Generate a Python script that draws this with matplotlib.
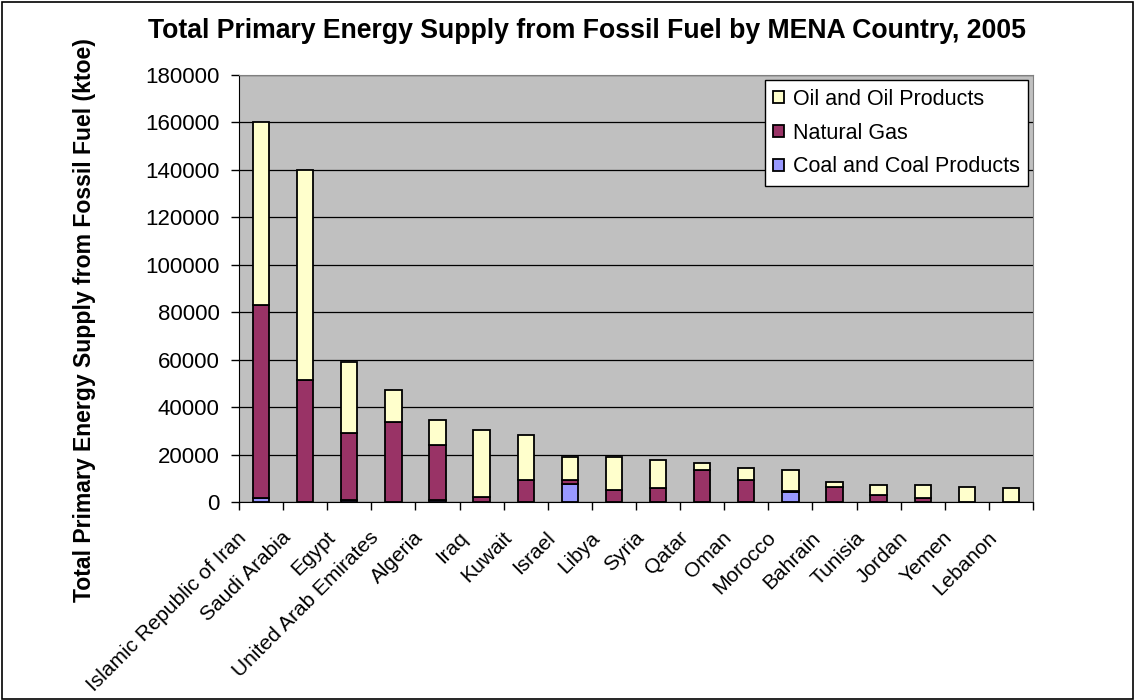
import matplotlib
matplotlib.use("Agg")
import matplotlib.pyplot as plt
import matplotlib.transforms as mtransforms
import numpy as np
from matplotlib.patches import Rectangle

countries = ["Islamic Republic of Iran", "Saudi Arabia", "Egypt", "United Arab Emirates",
             "Algeria", "Iraq", "Kuwait", "Israel", "Libya", "Syria", "Qatar", "Oman",
             "Morocco", "Bahrain", "Tunisia", "Jordan", "Yemen", "Lebanon"]
coal = [1500, 0, 800, 0, 700, 0, 0, 7700, 0, 0, 0, 0, 4100, 0, 0, 100, 0, 100]
gas = [81500, 51400, 28200, 33900, 23300, 2200, 9200, 1400, 5000, 5700, 13500, 9200, 700, 6400, 2900, 1700, 0, 0]
oil = [77000, 88600, 30150, 13300, 10500, 28100, 19000, 10000, 14100, 12000, 2800, 5000, 8700, 2200, 4300, 5400, 6450, 5700]
yticks = [0, 20000, 40000, 60000, 80000, 100000, 120000, 140000, 160000, 180000]

plt.rcParams['font.family'] = ['Liberation Sans', 'DejaVu Sans']

W, H = 1135, 700
fig = plt.figure(figsize=(W / 100, H / 100), dpi=100)
fig.patches.append(Rectangle((1.5 / W, 1.5 / H), 1 - 3.5 / W, 1 - 3.5 / H, transform=fig.transFigure,
                             fill=False, edgecolor='black', linewidth=1.2))
L, R, T, B = 239, 1033, 75, 502
ax = fig.add_axes([L / W, 1 - B / H, (R - L) / W, (B - T) / H])
ax.set_facecolor('#C0C0C0')

x = np.arange(len(countries))
w = 0.37
c = np.array(coal); g = np.array(gas); o = np.array(oil)
ax.bar(x, c, w, color='#9999FF', edgecolor='black', linewidth=1.3, label='Coal and Coal Products', zorder=3)
ax.bar(x, g, w, bottom=c, color='#993366', edgecolor='black', linewidth=1.3, label='Natural Gas', zorder=3)
ax.bar(x, o, w, bottom=c + g, color='#FFFFCC', edgecolor='black', linewidth=1.3, label='Oil and Oil Products', zorder=3)

ax.set_xlim(-0.5, len(countries) - 0.5)
ax.set_ylim(0, 180000)
ax.set_yticks(yticks)
ax.set_yticklabels([str(v) for v in yticks], fontsize=16)
ax.yaxis.grid(True, color='black', linewidth=0.9, zorder=0)
ax.set_axisbelow(True)

ax.set_xticks(x)
ax.set_xticklabels(countries, rotation=45, ha='right', rotation_mode='anchor', fontsize=15)
ax.tick_params(axis='x', length=0, pad=0)
offset = mtransforms.ScaledTranslation(-0.24, -0.26, fig.dpi_scale_trans)
for lab in ax.get_xticklabels():
    lab.set_transform(lab.get_transform() + offset)
ax.set_xticks(np.arange(-0.5, len(countries), 1.0), minor=True)
ax.tick_params(axis='x', which='minor', length=6, direction='out', width=1)
ax.tick_params(axis='y', length=6, direction='out', width=1, pad=8)

for s in ['top', 'right']:
    ax.spines[s].set_color('#808080')
ax.spines['left'].set_color('black')
ax.spines['bottom'].set_color('black')

fig.text(85 / W, 1 - 320 / H, 'Total Primary Energy Supply from Fossil Fuel (ktoe)', rotation=90,
         ha='center', va='center', fontsize=16.6, fontweight='bold')
fig.text(587 / W, 1 - 38 / H, 'Total Primary Energy Supply from Fossil Fuel by MENA Country, 2005',
         ha='center', va='baseline', fontsize=19.2, fontweight='bold')

h, l = ax.get_legend_handles_labels()
leg = ax.legend(h[::-1], l[::-1], loc='upper right', bbox_to_anchor=((1028 - L) / (R - L), (B - 80) / (B - T)),
                borderaxespad=0, fontsize=15.5,
                frameon=True, fancybox=False, edgecolor='black', framealpha=1,
                handlelength=0.5, handleheight=0.5, handletextpad=0.4, labelspacing=0.6,
                borderpad=0.4)
leg.get_frame().set_linewidth(1.0)

fig.savefig('out.png', dpi=100)
